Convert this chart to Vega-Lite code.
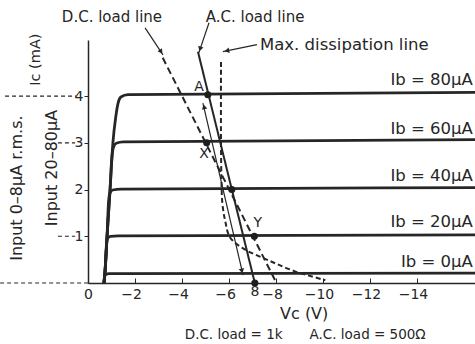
{
  "$schema": "https://vega.github.io/schema/vega-lite/v6.json",
  "width": 387,
  "height": 243,
  "autosize": {"type": "none"},
  "padding": {"left": 88, "top": 40, "right": 0, "bottom": 61},
  "background": "white",
  "config": {"view": {"stroke": null}, "font": "DejaVu Sans"},
  "datasets": {
    "curves": [
      {"ib": "80", "ord": 1, "v": -0.68, "i": 0}, {"ib": "80", "ord": 2, "v": -0.72, "i": 0.21}, {"ib": "80", "ord": 3, "v": -0.81, "i": 0.99}, {"ib": "80", "ord": 4, "v": -0.94, "i": 2.01}, {"ib": "80", "ord": 5, "v": -1.06, "i": 3.0}, {"ib": "80", "ord": 6, "v": -1.18, "i": 3.55}, {"ib": "80", "ord": 7, "v": -1.28, "i": 3.85}, {"ib": "80", "ord": 8, "v": -1.4, "i": 3.98}, {"ib": "80", "ord": 9, "v": -1.7, "i": 4.03}, {"ib": "80", "ord": 10, "v": -16.47, "i": 4.08},
      {"ib": "60", "ord": 1, "v": -0.68, "i": 0}, {"ib": "60", "ord": 2, "v": -0.72, "i": 0.21}, {"ib": "60", "ord": 3, "v": -0.81, "i": 0.99}, {"ib": "60", "ord": 4, "v": -0.94, "i": 2.01}, {"ib": "60", "ord": 5, "v": -1.01, "i": 2.65}, {"ib": "60", "ord": 6, "v": -1.08, "i": 2.9}, {"ib": "60", "ord": 7, "v": -1.2, "i": 2.99}, {"ib": "60", "ord": 8, "v": -1.5, "i": 3.02}, {"ib": "60", "ord": 9, "v": -16.47, "i": 3.07},
      {"ib": "40", "ord": 1, "v": -0.68, "i": 0}, {"ib": "40", "ord": 2, "v": -0.72, "i": 0.21}, {"ib": "40", "ord": 3, "v": -0.81, "i": 0.99}, {"ib": "40", "ord": 4, "v": -0.87, "i": 1.7}, {"ib": "40", "ord": 5, "v": -0.93, "i": 1.92}, {"ib": "40", "ord": 6, "v": -1.05, "i": 1.99}, {"ib": "40", "ord": 7, "v": -1.4, "i": 2.01}, {"ib": "40", "ord": 8, "v": -16.47, "i": 2.04},
      {"ib": "20", "ord": 1, "v": -0.68, "i": 0}, {"ib": "20", "ord": 2, "v": -0.72, "i": 0.21}, {"ib": "20", "ord": 3, "v": -0.78, "i": 0.78}, {"ib": "20", "ord": 4, "v": -0.83, "i": 0.95}, {"ib": "20", "ord": 5, "v": -0.95, "i": 1.0}, {"ib": "20", "ord": 6, "v": -1.3, "i": 1.01}, {"ib": "20", "ord": 7, "v": -16.47, "i": 1.03},
      {"ib": "0", "ord": 1, "v": -0.68, "i": 0}, {"ib": "0", "ord": 2, "v": -0.7, "i": 0.12}, {"ib": "0", "ord": 3, "v": -0.75, "i": 0.18}, {"ib": "0", "ord": 4, "v": -0.9, "i": 0.2}, {"ib": "0", "ord": 5, "v": -16.47, "i": 0.21}
    ],
    "dcline": [{"v": -3.18, "i": 4.82}, {"v": -8.02, "i": 0}],
    "acline": [{"v": -4.68, "i": 4.95}, {"v": -7.1, "i": 0}],
    "maxdiss": [
      {"ord": 1, "v": -5.66, "i": 4.73}, {"ord": 2, "v": -5.66, "i": 3.0}, {"ord": 3, "v": -5.68, "i": 2.2}, {"ord": 4, "v": -5.72, "i": 1.7}, {"ord": 5, "v": -5.85, "i": 1.3}, {"ord": 6, "v": -6.04, "i": 0.98}, {"ord": 7, "v": -6.6, "i": 0.74}, {"ord": 8, "v": -7.66, "i": 0.49}, {"ord": 9, "v": -8.81, "i": 0.25}, {"ord": 10, "v": -10.1, "i": 0.06}
    ],
    "thin": [
      {"seg": "swing", "v": -4.89, "i": 3.85}, {"seg": "swing", "v": -6.6, "i": 0.17},
      {"seg": "dc", "v": -2.43, "i": 5.46}, {"seg": "dc", "v": -3.19, "i": 4.88},
      {"seg": "ac", "v": -5.15, "i": 5.57}, {"seg": "ac", "v": -4.72, "i": 4.93},
      {"seg": "mx", "v": -7.19, "i": 5.1}, {"seg": "mx", "v": -5.74, "i": 4.95}
    ],
    "inputs": [
      {"seg": "a", "v": 3.53, "i": 4}, {"seg": "a", "v": 0.51, "i": 4},
      {"seg": "b", "v": 1.28, "i": 3}, {"seg": "b", "v": 0.55, "i": 3},
      {"seg": "c", "v": 1.28, "i": 1}, {"seg": "c", "v": 0.55, "i": 1},
      {"seg": "d", "v": 3.74, "i": 0}, {"seg": "d", "v": 0, "i": 0}
    ],
    "dots": [
      {"name": "A", "v": -5.1, "i": 4.03}, {"name": "X", "v": -5.05, "i": 3.0}, {"name": "Q", "v": -6.12, "i": 2.0}, {"name": "Y", "v": -7.08, "i": 1.0}, {"name": "B", "v": -7.1, "i": 0}
    ],
    "heads": [
      {"v": -4.94, "i": 3.77, "shape": "triangle-up", "ang": -13},
      {"v": -6.55, "i": 0.26, "shape": "triangle-down", "ang": -13},
      {"v": -3.11, "i": 4.95, "shape": "triangle-down", "ang": -34},
      {"v": -4.77, "i": 5.01, "shape": "triangle-down", "ang": 18},
      {"v": -5.91, "i": 4.97, "shape": "triangle-left", "ang": -12}
    ],
    "toptext": [
      {"t": "D.C. load line", "v": -1.02, "i": 5.7},
      {"t": "A.C. load line", "v": -7.11, "i": 5.7}
    ],
    "ctext": [
      {"t": "A", "v": -4.72, "i": 4.2},
      {"t": "X", "v": -4.94, "i": 2.76},
      {"t": "Y", "v": -7.23, "i": 1.28},
      {"t": "8", "v": -7.1, "i": -0.2}
    ],
    "caption": [
      {"t": "D.C. load = 1k", "v": -6.2, "i": -1.12},
      {"t": "A.C. load = 500Ω", "v": -11.9, "i": -1.12}
    ],
    "xtitle": [{"t": "Vc (V)", "v": -9.2, "i": -0.66}],
    "rtext": [
      {"t": "Ib = 80μA", "v": -16.38, "i": 4.35},
      {"t": "Ib = 60μA", "v": -16.38, "i": 3.3},
      {"t": "Ib = 40μA", "v": -16.38, "i": 2.29},
      {"t": "Ib = 20μA", "v": -16.38, "i": 1.31},
      {"t": "Ib = 0μA", "v": -16.38, "i": 0.45}
    ],
    "ltext": [{"t": "Max. dissipation line", "v": -7.32, "i": 5.1}],
    "ytitle": [{"t": "Ic (mA)", "v": 2.21, "i": 4.78}],
    "vtext": [
      {"t": "Input 0–8μA r.m.s.", "v": 3.02, "i": 2.03},
      {"t": "Input 20–80μA", "v": 1.53, "i": 2.46}
    ]
  },
  "layer": [
    {
      "data": {"name": "curves"},
      "mark": {"type": "line", "interpolate": "monotone", "strokeWidth": 2.8, "color": "#262626"},
      "encoding": {
        "x": {"field": "v", "type": "quantitative", "scale": {"domain": [0, -16.47], "nice": false, "zero": false},
          "axis": {"values": [0, -2, -4, -6, -8, -10, -12, -14], "title": null, "grid": false, "domainColor": "#262626", "domainWidth": 1.5, "tickColor": "#262626", "tickSize": -5, "tickWidth": 1, "labelPadding": 9, "labelFontSize": 14, "labelColor": "#262626", "labelFont": "DejaVu Sans", "labelFlush": false, "labelOverlap": false, "labelOffset": {"condition": {"test": "datum.value < 0", "value": -4}, "value": 0}}},
        "y": {"field": "i", "type": "quantitative", "scale": {"domain": [0, 5.2], "nice": false, "zero": false},
          "axis": {"values": [1, 2, 3, 4], "title": null, "grid": false, "domainColor": "#262626", "domainWidth": 1.5, "tickColor": "#262626", "tickSize": 4, "tickWidth": 1, "labelPadding": 1, "labelFontSize": 14, "labelColor": "#262626", "labelFont": "DejaVu Sans", "labelFlush": false}},
        "detail": {"field": "ib"},
        "order": {"field": "ord"}
      }
    },
    {
      "data": {"name": "dcline"},
      "mark": {"type": "line", "strokeWidth": 2, "strokeDash": [7, 4], "color": "#262626"},
      "encoding": {"x": {"field": "v", "type": "quantitative"}, "y": {"field": "i", "type": "quantitative"}}
    },
    {
      "data": {"name": "acline"},
      "mark": {"type": "line", "strokeWidth": 2, "color": "#262626"},
      "encoding": {"x": {"field": "v", "type": "quantitative"}, "y": {"field": "i", "type": "quantitative"}}
    },
    {
      "data": {"name": "maxdiss"},
      "mark": {"type": "line", "strokeWidth": 2, "strokeDash": [5, 3], "interpolate": "catmull-rom", "color": "#262626"},
      "encoding": {"x": {"field": "v", "type": "quantitative"}, "y": {"field": "i", "type": "quantitative"}, "order": {"field": "ord"}}
    },
    {
      "data": {"name": "thin"},
      "mark": {"type": "line", "strokeWidth": 1.2, "color": "#262626"},
      "encoding": {"x": {"field": "v", "type": "quantitative"}, "y": {"field": "i", "type": "quantitative"}, "detail": {"field": "seg"}}
    },
    {
      "data": {"name": "inputs"},
      "mark": {"type": "line", "strokeWidth": 1.2, "strokeDash": [4, 3], "color": "#262626", "clip": false},
      "encoding": {"x": {"field": "v", "type": "quantitative"}, "y": {"field": "i", "type": "quantitative"}, "detail": {"field": "seg"}}
    },
    {
      "data": {"name": "dots"},
      "mark": {"type": "point", "filled": true, "size": 50, "opacity": 1, "color": "#1e1e1e"},
      "encoding": {"x": {"field": "v", "type": "quantitative"}, "y": {"field": "i", "type": "quantitative"}}
    },
    {
      "data": {"name": "heads"},
      "mark": {"type": "point", "filled": true, "size": 30, "opacity": 1, "color": "#262626"},
      "encoding": {"x": {"field": "v", "type": "quantitative"}, "y": {"field": "i", "type": "quantitative"},
        "shape": {"field": "shape", "type": "nominal", "scale": null},
        "angle": {"field": "ang", "type": "quantitative", "scale": null}}
    },
    {
      "data": {"name": "toptext"},
      "mark": {"type": "text", "align": "center", "baseline": "middle", "fontSize": 15, "color": "#262626", "font": "DejaVu Sans"},
      "encoding": {"x": {"field": "v", "type": "quantitative"}, "y": {"field": "i", "type": "quantitative"}, "text": {"field": "t"}}
    },
    {
      "data": {"name": "ctext"},
      "mark": {"type": "text", "align": "center", "baseline": "middle", "fontSize": 14, "color": "#262626", "font": "DejaVu Sans"},
      "encoding": {"x": {"field": "v", "type": "quantitative"}, "y": {"field": "i", "type": "quantitative"}, "text": {"field": "t"}}
    },
    {
      "data": {"name": "caption"},
      "mark": {"type": "text", "align": "center", "baseline": "middle", "fontSize": 13.5, "color": "#262626", "font": "DejaVu Sans"},
      "encoding": {"x": {"field": "v", "type": "quantitative"}, "y": {"field": "i", "type": "quantitative"}, "text": {"field": "t"}}
    },
    {
      "data": {"name": "xtitle"},
      "mark": {"type": "text", "align": "center", "baseline": "middle", "fontSize": 16, "color": "#262626", "font": "DejaVu Sans"},
      "encoding": {"x": {"field": "v", "type": "quantitative"}, "y": {"field": "i", "type": "quantitative"}, "text": {"field": "t"}}
    },
    {
      "data": {"name": "rtext"},
      "mark": {"type": "text", "align": "right", "baseline": "middle", "fontSize": 16.5, "color": "#262626", "font": "DejaVu Sans"},
      "encoding": {"x": {"field": "v", "type": "quantitative"}, "y": {"field": "i", "type": "quantitative"}, "text": {"field": "t"}}
    },
    {
      "data": {"name": "ltext"},
      "mark": {"type": "text", "align": "left", "baseline": "middle", "fontSize": 16.5, "color": "#262626", "font": "DejaVu Sans"},
      "encoding": {"x": {"field": "v", "type": "quantitative"}, "y": {"field": "i", "type": "quantitative"}, "text": {"field": "t"}}
    },
    {
      "data": {"name": "ytitle"},
      "mark": {"type": "text", "align": "center", "baseline": "middle", "angle": 270, "fontSize": 14.5, "color": "#262626", "font": "DejaVu Sans"},
      "encoding": {"x": {"field": "v", "type": "quantitative"}, "y": {"field": "i", "type": "quantitative"}, "text": {"field": "t"}}
    },
    {
      "data": {"name": "vtext"},
      "mark": {"type": "text", "align": "center", "baseline": "middle", "angle": 270, "fontSize": 16, "color": "#262626", "font": "DejaVu Sans"},
      "encoding": {"x": {"field": "v", "type": "quantitative"}, "y": {"field": "i", "type": "quantitative"}, "text": {"field": "t"}}
    }
  ]
}
